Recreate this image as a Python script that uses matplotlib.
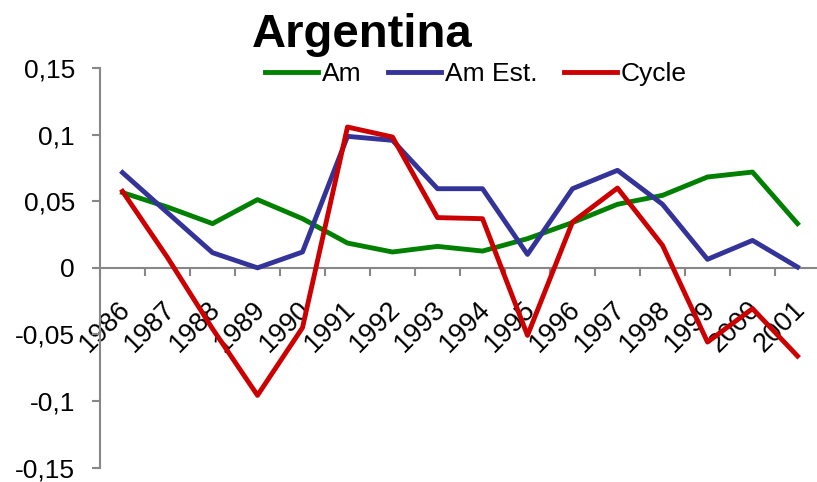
import numpy as np
import matplotlib
matplotlib.use('Agg')
import matplotlib.pyplot as plt
from matplotlib.transforms import ScaledTranslation

plt.rcParams['font.family'] = ['Liberation Sans', 'DejaVu Sans']

# ── Datos ──
years = ['1986', '1987', '1988', '1989', '1990', '1991', '1992', '1993',
         '1994', '1995', '1996', '1997', '1998', '1999', '2000', '2001']
am = [0.0565, 0.0456, 0.0332, 0.0512, 0.0369, 0.0186, 0.0119, 0.0161,
      0.0126, 0.0219, 0.0340, 0.0477, 0.0544, 0.0682, 0.0719, 0.0332]
am_est = [0.0715, 0.0414, 0.0114, 0.0000, 0.0119, 0.0987, 0.0957, 0.0594,
          0.0594, 0.0101, 0.0594, 0.0732, 0.0477, 0.0064, 0.0206, 0.0006]
cycle = [0.0574, 0.0077, -0.0457, -0.0957, -0.0449, 0.1057, 0.0982, 0.0377,
         0.0369, -0.0507, 0.0344, 0.0599, 0.0169, -0.0557, -0.0306, -0.0662]
yticks = [-0.15, -0.1, -0.05, 0, 0.05, 0.1, 0.15]
ytick_labels = ['-0,15', '-0,1', '-0,05', '0', '0,05', '0,1', '0,15']

W, H = 817, 482
fig = plt.figure(figsize=(W / 100, H / 100), dpi=100)
ax = fig.add_axes([100 / W, (H - 467.7) / H, 720 / W, 399.7 / H])

x = np.arange(len(years))
ax.plot(x, am, color='#008000', lw=3.5, label='Am', clip_on=False, zorder=3)
ax.plot(x, am_est, color='#333399', lw=3.5, label='Am Est.', clip_on=False, zorder=3)
ax.plot(x, cycle, color='#CC0000', lw=3.5, label='Cycle', clip_on=False, zorder=3)

ax.set_xlim(-0.5, len(years) - 0.5)
ax.set_ylim(-0.15, 0.15)

# ejes estilo Excel
gray = '#878787'
for s in ['top', 'right']:
    ax.spines[s].set_visible(False)
ax.spines['left'].set_color(gray)
ax.spines['left'].set_linewidth(1.5)
ax.spines['bottom'].set_position(('data', 0))
ax.spines['bottom'].set_color(gray)
ax.spines['bottom'].set_linewidth(1.5)

ax.set_yticks(yticks)
ax.set_yticklabels(ytick_labels)
ax.tick_params(axis='y', direction='out', length=6, width=1.5, color=gray,
               labelsize=19, pad=12)

ax.set_xticks(x)
ax.set_xticks(np.arange(len(years) + 1) - 0.5, minor=True)
ax.tick_params(axis='x', which='minor', direction='out', length=6, width=1.5, color=gray)
ax.tick_params(axis='x', which='major', length=0, pad=27, labelsize=19.5)
ax.set_xticklabels(years, rotation=45, ha='right', va='center', rotation_mode='anchor')
off = ScaledTranslation(4 / 100, 0, fig.dpi_scale_trans)
for lab in ax.get_xticklabels():
    lab.set_transform(lab.get_transform() + off)

fig.text(362 / W, 1 - 47 / H, 'Argentina', fontsize=34, fontweight='bold',
         ha='center', va='baseline')

fig.legend(loc='center', bbox_to_anchor=(476 / W, 1 - 74 / H), ncol=3,
           frameon=False, fontsize=19, handlelength=2.0, handletextpad=0.15,
           columnspacing=1.0, borderaxespad=0)

fig.savefig('out.png', dpi=100)
